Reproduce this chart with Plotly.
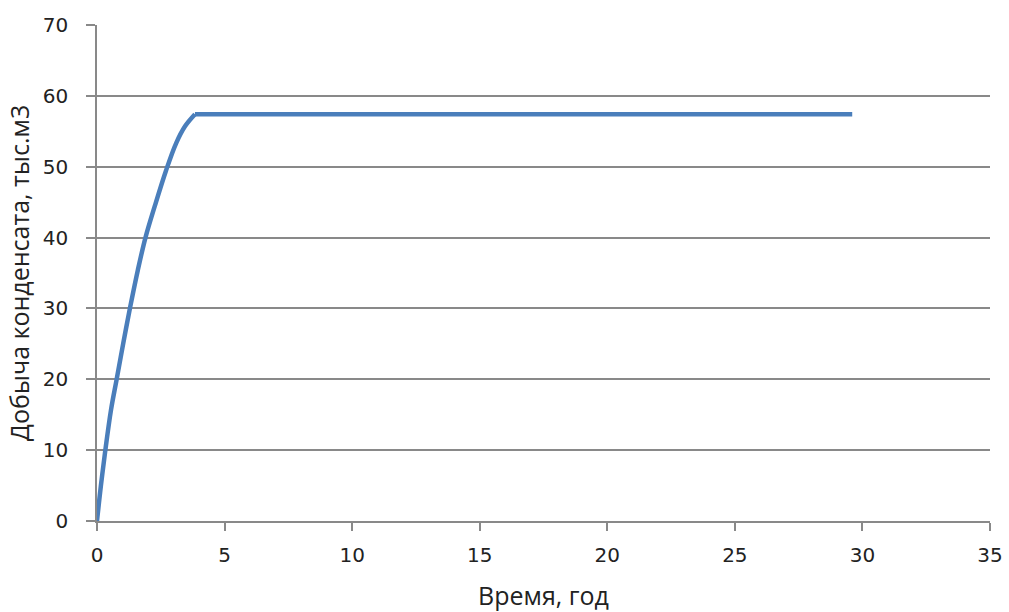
import plotly.graph_objects as go

# Condensate production vs time: ramp-up period, then the plateau
ramp_time = [0, 0.15, 0.32, 0.55, 0.77, 1.03, 1.29, 1.6, 1.9, 2.27, 2.7, 3.1, 3.45, 3.84]
ramp_prod = [0, 4.9, 9.8, 15.7, 20, 25.1, 30, 35.4, 40, 44.5, 49.4, 53.3, 55.7, 57.4]
plateau_time = [3.84, 29.6]
plateau_prod = [57.4, 57.4]

x_ticks = [0, 5, 10, 15, 20, 25, 30, 35]
y_ticks = [0, 10, 20, 30, 40, 50, 60, 70]

axis_color = "#898989"
line_color = "#4a7ebb"
tick_font = dict(family="DejaVu Sans", size=20, color="#222222")
title_font = dict(family="Open Sans", size=25, color="#222222")

fig = go.Figure()
fig.add_trace(go.Scatter(
    x=ramp_time, y=ramp_prod, mode="lines",
    line=dict(color=line_color, width=4.5, shape="spline", smoothing=1.0),
    showlegend=False,
))
fig.add_trace(go.Scatter(
    x=plateau_time, y=plateau_prod, mode="lines",
    line=dict(color=line_color, width=4.5, shape="linear"),
    showlegend=False,
))

fig.update_layout(
    width=1009, height=612,
    margin=dict(l=97, r=19, t=25, b=91),
    paper_bgcolor="white", plot_bgcolor="white",
    xaxis=dict(
        range=[0, 35], tickvals=x_ticks, showgrid=False, zeroline=False,
        automargin=False,
        showline=True, linecolor=axis_color, linewidth=1.5,
        ticks="outside", ticklen=8, tickcolor=axis_color, tickwidth=1.5,
        tickfont=tick_font, ticklabelstandoff=7,
        title=dict(text="Время, год", font=title_font, standoff=26),
    ),
    yaxis=dict(
        range=[0, 70], tickvals=y_ticks, showgrid=True, gridcolor=axis_color,
        gridwidth=1.5, zeroline=False,
        automargin=False,
        showline=True, linecolor=axis_color, linewidth=1.5,
        ticks="outside", ticklen=9, tickcolor=axis_color, tickwidth=1.5,
        tickfont=tick_font, ticklabelstandoff=14,
        title=dict(text="Добыча конденсата, тыс.м3", font=title_font, standoff=6),
    ),
)

fig.write_html("out.html")
